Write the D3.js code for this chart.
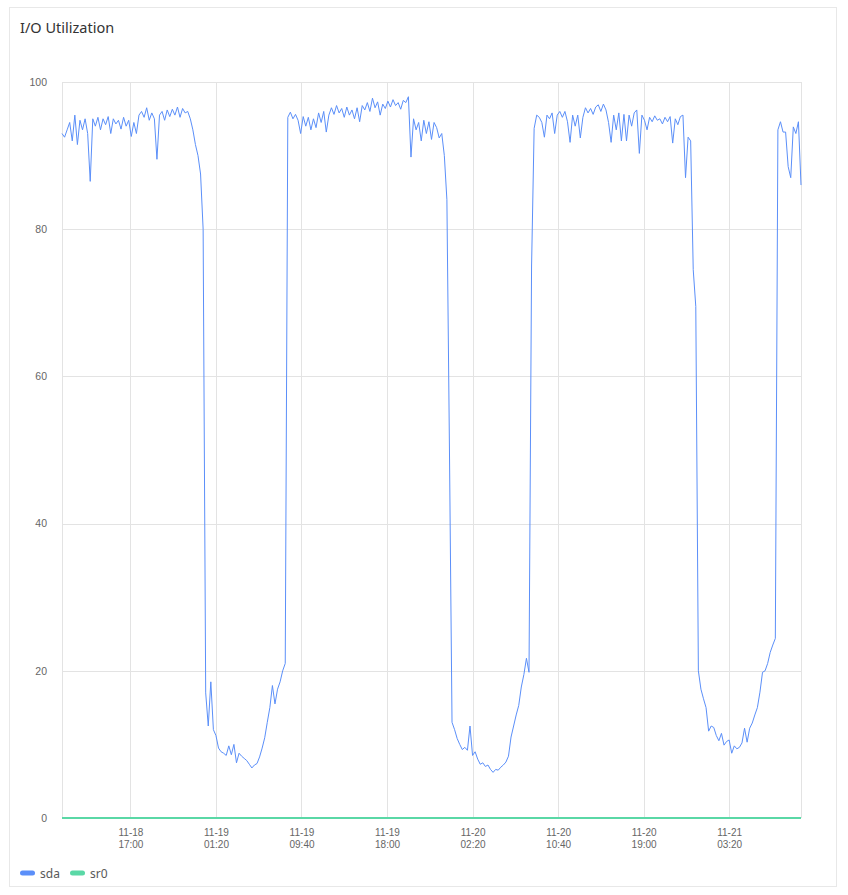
<!DOCTYPE html>
<html>
<head>
<meta charset="utf-8">
<script src="https://cdn.jsdelivr.net/npm/d3@7/dist/d3.min.js"></script>
<style>
  html, body { margin: 0; padding: 0; background: #ffffff; }
  svg { display: block; }
</style>
</head>
<body>
<svg id="chart" width="848" height="895"></svg>
<script>
// ---------------- DATA ----------------
const chartTitle = "I/O Utilization";
const seriesNames = ["sda", "sr0"];
const seriesColors = ["#5B8FF9", "#5AD8A6"];
const startTime = "2023-11-18 10:20";
const endTime = "2023-11-21 10:20";
const stepMinutes = 15;
const yTicks = [0, 20, 40, 60, 80, 100];
const xTickLabels = ["11-18 17:00", "11-19 01:20", "11-19 09:40", "11-19 18:00",
                     "11-20 02:20", "11-20 10:40", "11-20 19:00", "11-21 03:20"];

const sdaValues = [
93,92.5,93.5,94.5,92,95.5,91.5,94.8,93.5,95,
93,86.5,95,94,95.2,93.5,95,94.2,95.3,93,
95,94.3,94.8,93.6,95.2,94,94.8,92.6,94.5,93,
95.5,96,95.2,96.5,94.8,95.8,95,89.5,95.5,96,
94.8,96.2,95.3,96.3,95.5,96.6,95.2,96.4,95.8,96,
95,93.5,91.5,90,87.5,80,17,12.5,18.5,12,
11.2,9.5,9,8.8,8.5,9.8,8.6,10,7.5,8.8,
8.4,8.1,7.8,7.3,6.8,7.2,7.4,8.3,9.5,10.9,
13,15,18,15.5,17.5,18.5,20,21,95.2,95.9,
95,95.6,94.8,93,95.3,94,95.2,93.5,95,93.8,
95.8,94.5,96,93.2,95.5,96.5,95.6,96.8,95.8,96.4,
95.2,96.6,95.5,96.2,95,96.5,94.6,96.8,96.2,97.2,
96,97.8,96.5,97.3,95.5,97,96.4,97.4,96.6,97.6,
96.8,97.2,96.3,97.5,97.2,98,89.8,95,93.5,94.5,
92,94.8,93,94.6,92.2,94.5,93.8,92.4,93,90,
84,50,13,12,10.8,10,9.3,9.6,9.2,12.5,
8.5,9,8,7.3,7.5,7,7.2,6.6,6.2,6.6,
6.5,6.9,7.2,7.6,8.4,11,12.5,14,15.3,17.8,
19.5,21.7,19.8,75,93.7,95.5,95.2,94.5,92.5,95.5,
95,95.8,93,95.5,96,95.2,96,94.6,91.8,95.5,
94,95.5,92.4,95.2,96.5,95.8,96.4,95.6,96.6,96.9,
96,97,96.2,94.5,91.8,95.5,93.5,95.8,92,95.6,
92,95.5,94,95.8,96.2,90.3,95.5,94.8,93.5,95.2,
94.6,95.4,94.8,95,94.3,95.2,94.6,95.3,91.7,95,
94.2,95.3,95.5,87,92.5,92,74.5,69.5,20,17.5,
16.2,15,11.8,12.5,12.3,11.2,10.5,11.5,9.9,10.4,
10.6,8.8,9.8,9.4,9.6,10.2,12.2,10.3,12.2,12.9,
14,15,17.1,19.8,20,21,22.5,23.5,24.4,93.5,
94.6,93.2,93.2,88.5,87,93.9,93,94.6,86
];

const sr0Values = [
0,0,0,0,0,0,0,0,0,0, 0,0,0,0,0,0,0,0,0,0, 0,0,0,0,0,0,0,0,0,0,
0,0,0,0,0,0,0,0,0,0, 0,0,0,0,0,0,0,0,0,0, 0,0,0,0,0,0,0,0,0,0,
0,0,0,0,0,0,0,0,0,0, 0,0,0,0,0,0,0,0,0,0, 0,0,0,0,0,0,0,0,0,0,
0,0,0,0,0,0,0,0,0,0, 0,0,0,0,0,0,0,0,0,0, 0,0,0,0,0,0,0,0,0,0,
0,0,0,0,0,0,0,0,0,0, 0,0,0,0,0,0,0,0,0,0, 0,0,0,0,0,0,0,0,0,0,
0,0,0,0,0,0,0,0,0,0, 0,0,0,0,0,0,0,0,0,0, 0,0,0,0,0,0,0,0,0,0,
0,0,0,0,0,0,0,0,0,0, 0,0,0,0,0,0,0,0,0,0, 0,0,0,0,0,0,0,0,0,0,
0,0,0,0,0,0,0,0,0,0, 0,0,0,0,0,0,0,0,0,0, 0,0,0,0,0,0,0,0,0,0,
0,0,0,0,0,0,0,0,0,0, 0,0,0,0,0,0,0,0,0,0, 0,0,0,0,0,0,0,0,0,0,
0,0,0,0,0,0,0,0,0,0, 0,0,0,0,0,0,0,0,0
];

// ---------------- CHART ----------------
const parse = d3.timeParse("%Y-%m-%d %H:%M");
const t0 = parse(startTime), t1 = parse(endTime);
const tickDates = xTickLabels.map(s => parse("2023-" + s));
const series = [sdaValues, sr0Values].map((vals, k) => ({
  name: seriesNames[k], color: seriesColors[k],
  points: vals.map((v, i) => ({ t: d3.timeMinute.offset(t0, i * stepMinutes), v }))
}));

const svg = d3.select("#chart");
const plot = { left: 62, right: 801, top: 82, bottom: 818 };

// card
svg.append("rect").attr("x", 9.5).attr("y", 7.5).attr("width", 827).attr("height", 879)
  .attr("fill", "#fff").attr("stroke", "#e8e8e8").attr("stroke-width", 1);

svg.append("text").attr("x", 20).attr("y", 33)
  .attr("font-family", "'Noto Sans', 'Open Sans', sans-serif").attr("font-size", 14.5)
  .attr("fill", "#333").text(chartTitle);

const x = d3.scaleTime().domain([t0, t1]).range([plot.left, plot.right]);
const y = d3.scaleLinear().domain([0, 100]).range([plot.bottom, plot.top]);

const grid = svg.append("g").attr("stroke", "#e3e3e3").attr("stroke-width", 1).attr("shape-rendering", "crispEdges");
yTicks.forEach(v => {
  grid.append("line").attr("x1", plot.left).attr("x2", plot.right)
    .attr("y1", Math.round(y(v)) + 0.5).attr("y2", Math.round(y(v)) + 0.5);
});
tickDates.concat([t0, t1]).forEach(d => {
  const xp = Math.round(x(d)) + 0.5;
  grid.append("line").attr("x1", xp).attr("x2", xp).attr("y1", plot.top).attr("y2", plot.bottom);
});

// y labels
const yAxis = d3.axisLeft(y).tickValues(yTicks).tickSize(0).tickPadding(0);
const gy = svg.append("g").attr("transform", `translate(${plot.left - 15},0)`).call(yAxis);
gy.select(".domain").remove();
gy.selectAll("text").attr("font-family", "'Liberation Sans', Arial, sans-serif")
  .attr("font-size", 10.5).attr("fill", "#666");

// x labels (two separate lines)
const fmtD = d3.timeFormat("%m-%d"), fmtT = d3.timeFormat("%H:%M");
const xAxis = d3.axisBottom(x).tickValues(tickDates).tickSize(0).tickFormat("");
const gx = svg.append("g").attr("transform", `translate(0,${plot.bottom})`).call(xAxis);
gx.select(".domain").remove();
gx.selectAll(".tick").each(function(d) {
  const g = d3.select(this);
  [[fmtD(d), 18], [fmtT(d), 29.5]].forEach(([txt, yy]) => {
    g.append("text").attr("text-anchor", "middle").attr("x", 0).attr("y", yy)
      .attr("font-family", "'Liberation Sans', Arial, sans-serif").attr("font-size", 10)
      .attr("fill", "#666").text(txt);
  });
});

// lines
const line = d3.line().x(d => x(d.t)).y(d => y(d.v));
[series[1], series[0]].forEach(s => {
  svg.append("path").datum(s.points).attr("d", line)
    .attr("fill", "none").attr("stroke", s.color)
    .attr("stroke-width", s.name === "sr0" ? 2 : 1)
    .attr("stroke-linejoin", "round");
});

// legend
const lg = svg.append("g").attr("transform", "translate(20,873)");
let lx = 0;
series.forEach(s => {
  lg.append("rect").attr("x", lx).attr("y", -2.5).attr("width", 15).attr("height", 5).attr("rx", 2.5)
    .attr("fill", s.color);
  lg.append("text").attr("x", lx + 20).attr("y", 4.5)
    .attr("font-family", "'Noto Sans', 'Open Sans', sans-serif").attr("font-size", 12)
    .attr("fill", "#595959").text(s.name);
  lx += 50;
});
</script>
</body>
</html>
